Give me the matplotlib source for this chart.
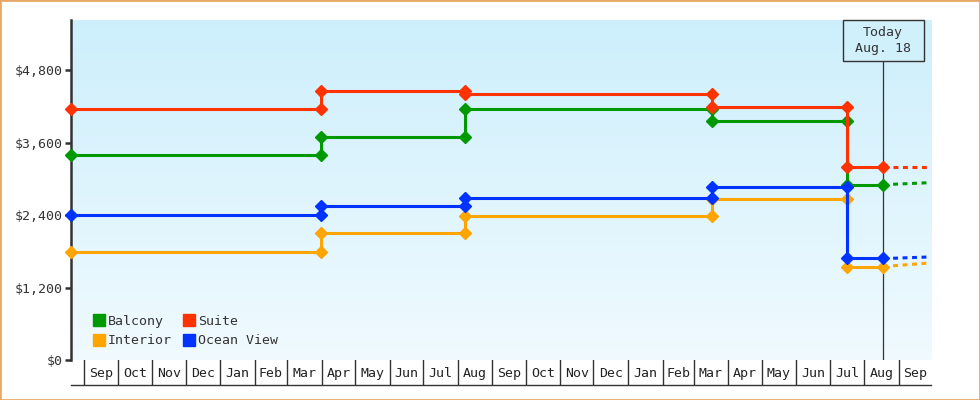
import matplotlib
matplotlib.use("Agg")
import numpy as np
import pandas as pd
import matplotlib.pyplot as plt
import matplotlib.dates as mdates
from matplotlib.colors import LinearSegmentedColormap
from matplotlib.lines import Line2D
from matplotlib.patches import Rectangle

plt.rcParams['font.family'] = ['DejaVu Sans Mono']

# price history (step changes), dates
x_start = "2023-08-20"
x_end = "2025-09-30"
change_dates = ["2023-08-20", "2024-03-31", "2024-08-08", "2025-03-17", "2025-07-17"]
today = "2025-08-18"
today_label = "Today\nAug. 18"
proj_dates = ["2025-08-27", "2025-09-27"]

names = ["Balcony", "Interior", "Suite", "Ocean View"]
colors = ["#009900", "#ffa500", "#ff3300", "#0033ff"]
balcony = [3390, 3690, 4150, 3950, 2900]
interior = [1790, 2100, 2380, 2660, 1545]
suite = [4150, 4450, 4400, 4190, 3190]
ocean = [2395, 2550, 2680, 2865, 1685]
balcony_proj = [2910, 2935]
interior_proj = [1560, 1605]
suite_proj = [3190, 3190]
ocean_proj = [1685, 1705]

y_ticks = [0, 1200, 2400, 3600, 4800]
y_max = 5630

TXT = "#333333"
W, H = 980, 400

fig = plt.figure(figsize=(W / 100, H / 100), dpi=100)
ax = fig.add_axes([71 / W, 1 - 360 / H, 860 / W, 340 / H])

# background gradient
cmap = LinearSegmentedColormap.from_list("bg", ["#f0faff", "#cdeffc"])
grad = np.linspace(0, 1, 256).reshape(-1, 1)
ax.imshow(grad, extent=[0, 1, 0, 1], transform=ax.transAxes, aspect="auto",
          cmap=cmap, origin="lower", zorder=0)

steps = pd.to_datetime(change_dates + [today])
series = [(balcony, balcony_proj), (interior, interior_proj),
          (suite, suite_proj), (ocean, ocean_proj)]
for (vals, proj), c in zip(series, colors):
    xs, ys = [], []
    for i, v in enumerate(vals):
        xs += [steps[i], steps[i + 1]]
        ys += [v, v]
    ax.plot(xs, ys, color=c, lw=2.2, marker="D", ms=6, clip_on=False, zorder=3)
    ax.plot(pd.to_datetime(proj_dates), proj, color=c, lw=2.2,
            ls=(0, (1.6, 1.5)), zorder=3)

ax.axvline(pd.Timestamp(today), color=TXT, lw=0.9, zorder=2)

ax.set_xlim(pd.Timestamp(x_start), pd.Timestamp(x_end))
ax.set_ylim(0, y_max)
ax.set_xticks([])
ax.set_yticks(y_ticks)
ax.set_yticklabels(["${:,}".format(v) for v in y_ticks])
ax.tick_params(axis="y", length=4, width=1.8, color=TXT, labelcolor=TXT,
               labelsize=9.5, pad=2)
for s in ["top", "right", "bottom"]:
    ax.spines[s].set_visible(False)
ax.spines["left"].set_color(TXT)
ax.spines["left"].set_linewidth(1.8)

# legend
handles = [Line2D([], [], ls="none", marker="s", ms=8, color=c) for c in colors]
ax.legend(handles, names, ncol=2, loc="upper left", frameon=False,
          bbox_to_anchor=(87 / W, 1 - 308 / H), bbox_transform=fig.transFigure,
          borderpad=0, handlelength=0.8, handletextpad=0.3, columnspacing=0.9,
          labelspacing=0.5, fontsize=9.5, labelcolor=TXT)

# month strip below the plot
bax = fig.add_axes([71 / W, 1 - 385 / H, 860 / W, 25 / H])
bax.set_xlim(pd.Timestamp(x_start), pd.Timestamp(x_end))
bax.set_ylim(0, 1)
month_starts = pd.date_range("2023-09-01", "2025-10-01", freq="MS")
for m0, m1 in zip(month_starts[:-1], month_starts[1:]):
    bax.axvline(m0, color=TXT, lw=1)
    bax.text(m0 + (m1 - m0) / 2, 0.47, m0.strftime("%b"), ha="center",
             va="center", fontsize=9.5, color="#222222")
bax.set_xticks([])
bax.set_yticks([])
bax.patch.set_visible(False)
for s in ["top", "right", "left"]:
    bax.spines[s].set_visible(False)
bax.spines["bottom"].set_color(TXT)
bax.spines["bottom"].set_linewidth(1)

# today box
px = ax.transData.transform((mdates.date2num(pd.Timestamp(today)), 0))[0]
fig.add_artist(Rectangle(((px - 40) / W, 1 - 61 / H), 81 / W, 41 / H,
                         transform=fig.transFigure, fc="#d0f0fc", ec=TXT,
                         lw=1, zorder=5))
fig.text(px / W, 1 - 40.5 / H, today_label, ha="center", va="center",
         fontsize=9.5, color=TXT, linespacing=1.35, zorder=6)

# outer border
fig.add_artist(Rectangle((0, 0), 1, 1, transform=fig.transFigure, fill=False,
                         ec="#e8a868", lw=2))

fig.savefig("out.png", dpi=100)
